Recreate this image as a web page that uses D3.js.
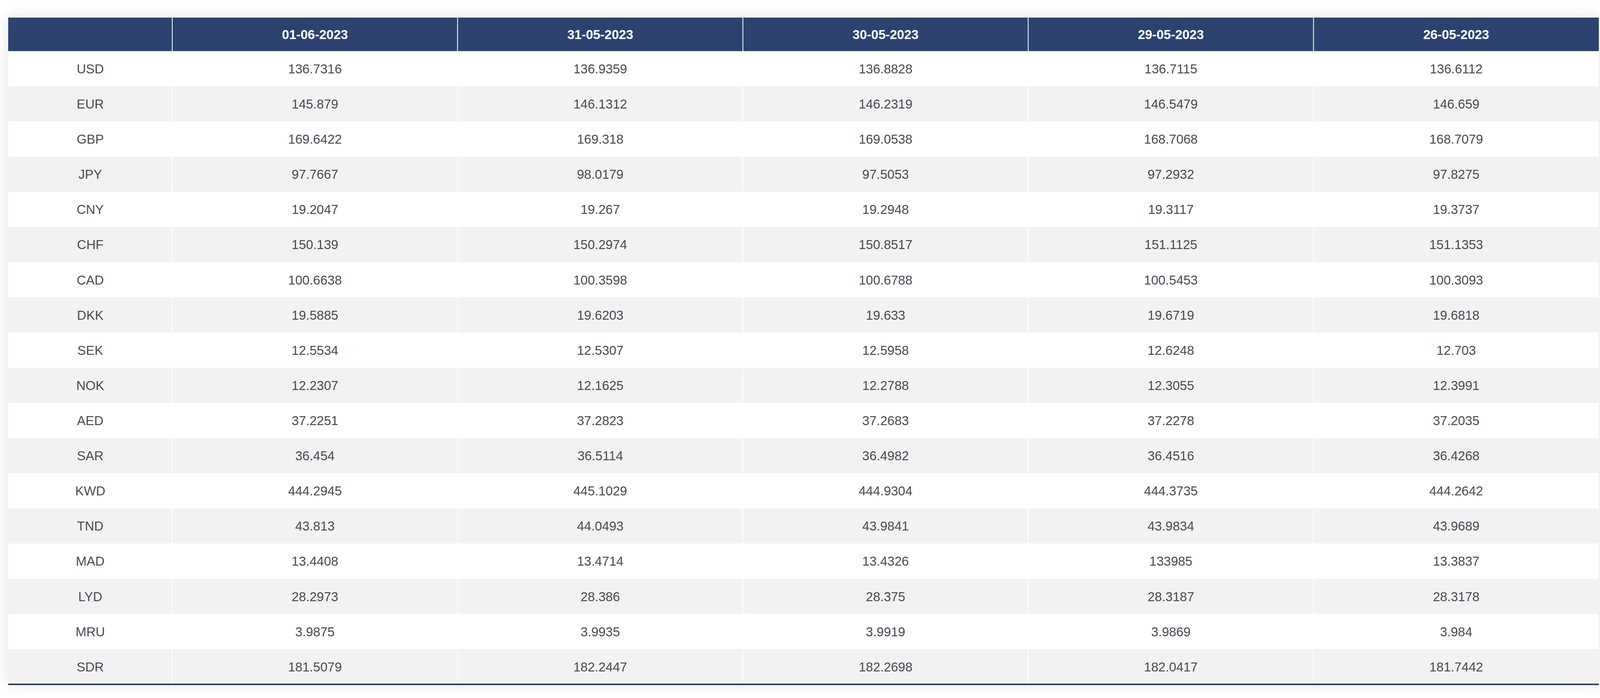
<!DOCTYPE html>
<html>
<head>
<meta charset="utf-8">
<script src="https://cdn.jsdelivr.net/npm/d3@7"></script>
<style>
body{margin:0;background:#fff;}
svg{display:block;font-family:"Liberation Sans",Arial,sans-serif;}
</style>
</head>
<body>
<div id="chart"></div>
<script>
const dates=['01-06-2023','31-05-2023','30-05-2023','29-05-2023','26-05-2023']
const currencies=['USD','EUR','GBP','JPY','CNY','CHF','CAD','DKK','SEK','NOK','AED','SAR','KWD','TND','MAD','LYD','MRU','SDR']
const rates=[
	['136.7316','136.9359','136.8828','136.7115','136.6112'],
	['145.879','146.1312','146.2319','146.5479','146.659'],
	['169.6422','169.318','169.0538','168.7068','168.7079'],
	['97.7667','98.0179','97.5053','97.2932','97.8275'],
	['19.2047','19.267','19.2948','19.3117','19.3737'],
	['150.139','150.2974','150.8517','151.1125','151.1353'],
	['100.6638','100.3598','100.6788','100.5453','100.3093'],
	['19.5885','19.6203','19.633','19.6719','19.6818'],
	['12.5534','12.5307','12.5958','12.6248','12.703'],
	['12.2307','12.1625','12.2788','12.3055','12.3991'],
	['37.2251','37.2823','37.2683','37.2278','37.2035'],
	['36.454','36.5114','36.4982','36.4516','36.4268'],
	['444.2945','445.1029','444.9304','444.3735','444.2642'],
	['43.813','44.0493','43.9841','43.9834','43.9689'],
	['13.4408','13.4714','13.4326','133985','13.3837'],
	['28.2973','28.386','28.375','28.3187','28.3178'],
	['3.9875','3.9935','3.9919','3.9869','3.984'],
	['181.5079','182.2447','182.2698','182.0417','181.7442']
]

const W=4114,H=1788
const tLeft=21,tRight=4093,firstW=420,tTop=45,headH=86,tBottom=1753

const svg=d3.select('#chart').append('svg')
	.attr('width',W).attr('height',H)

const defs=svg.append('defs')
const f=defs.append('filter').attr('id','sh').attr('x','-5%').attr('y','-10%').attr('width','110%').attr('height','120%')
f.append('feGaussianBlur').attr('in','SourceAlpha').attr('stdDeviation',18)
f.append('feComponentTransfer').append('feFuncA').attr('type','linear').attr('slope',0.12)
const fm=f.append('feMerge')
fm.append('feMergeNode')
fm.append('feMergeNode').attr('in','SourceGraphic')

let xScale=d3.scaleBand()
	.domain(dates)
	.range([tLeft+firstW,tRight])

let yScale=d3.scaleBand()
	.domain(currencies)
	.range([tTop+headH,tBottom])

svg.append('rect')
	.attr('x',tLeft).attr('y',tTop).attr('width',tRight-tLeft).attr('height',tBottom-tTop)
	.attr('fill','#fff').attr('filter','url(#sh)')

// header
svg.append('rect')
	.attr('x',tLeft).attr('y',tTop).attr('width',tRight-tLeft).attr('height',headH)
	.attr('fill','#2c4370')
svg.selectAll('.hd')
	.data(dates).enter().append('text')
	.attr('x',d=>xScale(d)+xScale.bandwidth()/2)
	.attr('y',tTop+headH/2)
	.attr('dy','0.36em')
	.attr('text-anchor','middle')
	.attr('fill','#fff').attr('font-weight','bold').attr('font-size',33)
	.text(d=>d)

// rows
const rows=svg.selectAll('.row')
	.data(currencies).enter().append('g')
	.attr('transform',d=>`translate(0,${yScale(d)})`)
rows.append('rect')
	.attr('x',tLeft).attr('width',tRight-tLeft).attr('height',yScale.bandwidth())
	.attr('fill',(d,i)=>i%2? '#f2f2f2':'#fff')
rows.append('text')
	.attr('x',tLeft+firstW/2).attr('y',yScale.bandwidth()/2).attr('dy','0.36em')
	.attr('text-anchor','middle').attr('fill','#4a4b52').attr('font-size',33)
	.text(d=>d)
rows.each(function(d,i){
	d3.select(this).selectAll('.v')
		.data(rates[i]).enter().append('text')
		.attr('x',(v,j)=>xScale(dates[j])+xScale.bandwidth()/2)
		.attr('y',yScale.bandwidth()/2).attr('dy','0.36em')
		.attr('text-anchor','middle').attr('fill','#4a4b52').attr('font-size',33)
		.text(v=>v)
})

// column separators
svg.selectAll('.sep')
	.data(dates).enter().append('line')
	.attr('x1',d=>xScale(d)).attr('x2',d=>xScale(d))
	.attr('y1',tTop).attr('y2',tBottom)
	.attr('stroke','#fff').attr('stroke-width',2)

svg.append('line')
	.attr('x1',tLeft).attr('x2',tRight).attr('y1',tBottom).attr('y2',tBottom)
	.attr('stroke','#2c4370').attr('stroke-width',4)
</script>
</body>
</html>
